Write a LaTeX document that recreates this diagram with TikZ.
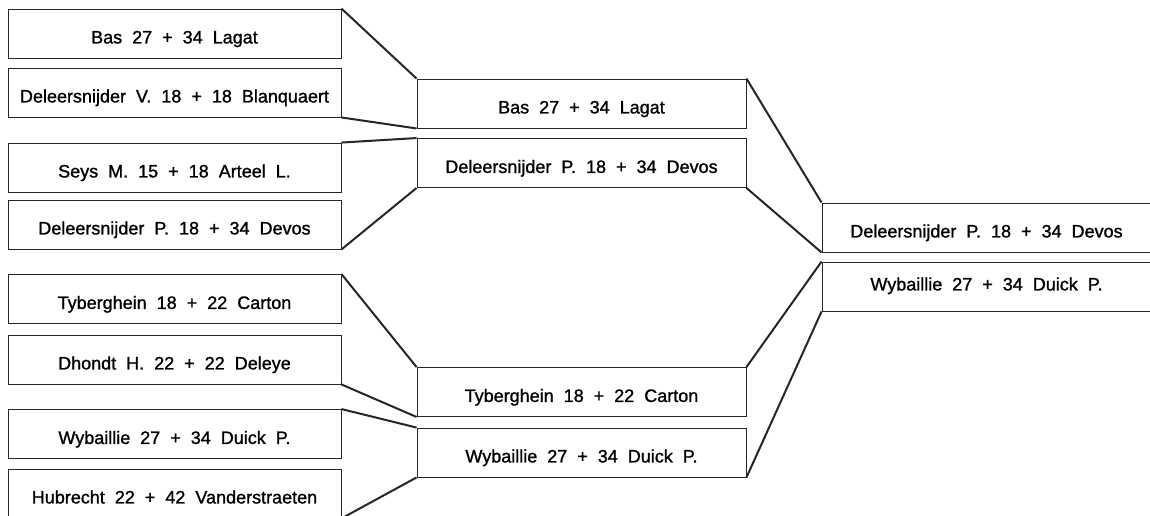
\documentclass[tikz,border=0pt]{standalone}
\usepackage{fontspec}
\setmainfont{Liberation Sans}[WordSpace=2, FakeBold=1.2]
\begin{document}
\begin{tikzpicture}[x=1pt,y=-1pt,
  box/.style={draw=black!85, line width=0.9pt, rectangle, inner sep=0pt,
    minimum height=49pt, font=\fontsize{18}{20}\selectfont,
    text height=19.9pt, text depth=0pt},
  lbox/.style={box, minimum width=333pt},
  mbox/.style={box, minimum width=329pt},
  link/.style={line width=2pt, draw=black!85, line join=round}
]
\useasboundingbox (0,0) rectangle (1150,515);
\clip (0,0) rectangle (1150,515);
% first round
\node[lbox] (l1) at (174.5,33.5)  {Bas 27 + 34 Lagat};
\node[lbox] (l2) at (174.5,92.5)  {Deleersnijder V. 18 + 18 Blanquaert};
\node[lbox] (l3) at (174.5,167.5) {Seys M. 15 + 18 Arteel L.};
\node[lbox] (l4) at (174.5,224.5) {Deleersnijder P. 18 + 34 Devos};
\node[lbox] (l5) at (174.5,299)   {Tyberghein 18 + 22 Carton};
\node[lbox] (l6) at (174.5,359.5) {Dhondt H. 22 + 22 Deleye};
\node[lbox] (l7) at (174.5,434)   {Wybaillie 27 + 34 Duick P.};
\node[lbox] (l8) at (174.5,493.5) {Hubrecht 22 + 42 Vanderstraeten};
% second round
\node[mbox] (m1) at (581.5,103.5) {Bas 27 + 34 Lagat};
\node[mbox] (m2) at (581.5,163)   {Deleersnijder P. 18 + 34 Devos};
\node[mbox] (m3) at (581.5,392)   {Tyberghein 18 + 22 Carton};
\node[mbox] (m4) at (581.5,452.5) {Wybaillie 27 + 34 Duick P.};
% final
\node[mbox] (r1) at (986.5,227.5) {Deleersnijder P. 18 + 34 Devos};
\node[mbox, text height=7.9pt] (r2) at (986.5,286.5) {Wybaillie 27 + 34 Duick P.};
% connectors
\draw[link] (l1.north east) -- (m1.north west);
\draw[link] (l2.south east) -- (m1.south west);
\draw[link] (l3.north east) -- (m2.north west);
\draw[link] (l4.south east) -- (m2.south west);
\draw[link] (l5.north east) -- (m3.north west);
\draw[link] (l6.south east) -- (m3.south west);
\draw[link] (l7.north east) -- (m4.north west);
\draw[link] (l8.south east) -- (m4.south west);
\draw[link] (m1.north east) -- (r1.north west);
\draw[link] (m2.south east) -- (r1.south west);
\draw[link] (m3.north east) -- (r2.north west);
\draw[link] (m4.south east) -- (r2.south west);
\end{tikzpicture}
\end{document}
